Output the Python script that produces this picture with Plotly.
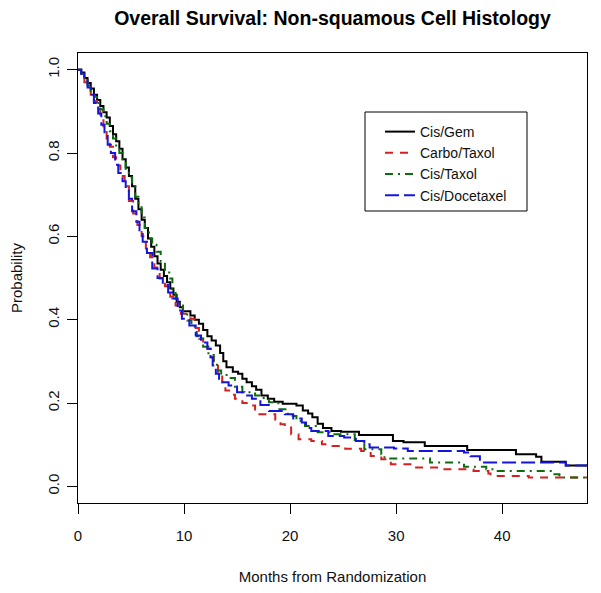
import plotly.graph_objects as go

# ---- data ----
series_names = ["Cis/Gem", "Carbo/Taxol", "Cis/Taxol", "Cis/Docetaxel"]

cisgem_t = [0, 0.3, 0.6, 0.9, 1.2, 1.5, 1.8, 2.1, 2.4, 2.7,
            3.0, 3.3, 3.6, 3.9, 4.2, 4.5, 4.8, 5.1, 5.4, 5.7,
            6.0, 6.3, 6.6, 6.9, 7.2, 7.5, 7.8, 8.1, 8.4, 8.7,
            9.0, 9.3, 9.6, 9.9, 10.6, 11.0, 11.4, 11.8, 12.2, 12.6,
            13.0, 13.4, 13.7, 14.0, 14.6, 15.1, 15.5, 15.9, 16.4, 16.8,
            17.3, 17.9, 18.5, 19.3, 20.6, 21.2, 21.7, 22.1, 22.6, 23.1,
            23.9, 24.8, 26.5, 29.7, 30.7, 32.7, 36.7, 41.3, 43.2, 43.7,
            46.0, 48]
cisgem_s = [1.0, 0.993, 0.98, 0.968, 0.955, 0.94, 0.927, 0.913, 0.898, 0.885,
            0.865, 0.845, 0.828, 0.81, 0.785, 0.765, 0.745, 0.72, 0.69, 0.665,
            0.64, 0.62, 0.595, 0.575, 0.552, 0.535, 0.52, 0.505, 0.49, 0.475,
            0.46, 0.443, 0.43, 0.42, 0.41, 0.40, 0.39, 0.375, 0.36, 0.35,
            0.338, 0.32, 0.30, 0.286, 0.275, 0.27, 0.258, 0.25, 0.24, 0.232,
            0.218, 0.21, 0.203, 0.198, 0.194, 0.182, 0.175, 0.166, 0.15, 0.14,
            0.133, 0.131, 0.123, 0.109, 0.106, 0.097, 0.087, 0.077, 0.071, 0.059,
            0.05, 0.05]

carbotaxol_t = [0, 0.3, 0.6, 0.9, 1.2, 1.5, 1.8, 2.1, 2.4, 2.7,
                3.0, 3.3, 3.6, 4.0, 4.4, 4.8, 5.2, 5.6, 6.0, 6.4,
                6.8, 7.2, 7.7, 8.2, 8.7, 9.2, 9.7, 10.6, 11.0, 11.4,
                11.8, 12.2, 12.5, 12.8, 13.2, 13.6, 13.9, 14.4, 14.8, 15.5,
                16.1, 16.7, 18.6, 19.1, 19.5, 20.1, 20.8, 22.0, 23.0, 24.0,
                25.2, 26.7, 27.6, 28.6, 29.5, 31.7, 34.2, 37.3, 38.7, 38.9,
                42.5, 48]
carbotaxol_s = [1.0, 0.985, 0.97, 0.957, 0.94, 0.925, 0.905, 0.885, 0.86, 0.835,
                0.815, 0.79, 0.77, 0.745, 0.72, 0.685, 0.655, 0.627, 0.60, 0.571,
                0.55, 0.525, 0.499, 0.48, 0.455, 0.434, 0.414, 0.402, 0.38, 0.354,
                0.342, 0.33, 0.31, 0.294, 0.27, 0.25, 0.23, 0.22, 0.21, 0.2,
                0.194, 0.173, 0.157, 0.149, 0.141, 0.125, 0.113, 0.109, 0.101, 0.097,
                0.09, 0.085, 0.073, 0.065, 0.053, 0.045, 0.041, 0.037, 0.031, 0.025,
                0.021, 0.021]

cistaxol_t = [0, 0.3, 0.6, 0.9, 1.2, 1.5, 1.8, 2.1, 2.4, 2.7,
              3.0, 3.3, 3.6, 3.9, 4.2, 4.5, 4.8, 5.1, 5.4, 5.7,
              6.0, 6.3, 6.7, 7.0, 7.4, 7.8, 8.2, 8.6, 8.9, 9.2,
              9.5, 9.9, 10.3, 10.7, 11.2, 11.8, 12.3, 12.8, 13.1, 13.5,
              14.2, 14.8, 15.5, 16.7, 17.3, 18.0, 18.9, 19.8, 20.6, 21.4,
              22.6, 24.0, 26.1, 27.0, 28.6, 28.9, 33.2, 36.4, 38.5, 39.2,
              44.8, 45.4, 48]
cistaxol_s = [1.0, 0.99, 0.975, 0.962, 0.948, 0.935, 0.92, 0.905, 0.888, 0.87,
              0.852, 0.835, 0.818, 0.8, 0.78, 0.762, 0.742, 0.72, 0.695, 0.67,
              0.645, 0.62, 0.595, 0.58, 0.563, 0.54, 0.52, 0.499, 0.47, 0.45,
              0.434, 0.415, 0.398, 0.383, 0.36, 0.335, 0.315, 0.30, 0.278, 0.267,
              0.26, 0.239, 0.226, 0.218, 0.212, 0.202, 0.185, 0.169, 0.157, 0.145,
              0.13, 0.125, 0.109, 0.089, 0.077, 0.067, 0.057, 0.047, 0.041, 0.037,
              0.029, 0.021, 0.021]

cisdoc_t = [0, 0.3, 0.6, 0.9, 1.2, 1.5, 1.9, 2.2, 2.5, 2.8,
            3.1, 3.5, 3.8, 4.2, 4.5, 4.8, 5.1, 5.5, 5.8, 6.1,
            6.5, 7.0, 7.5, 8.0, 8.5, 8.9, 9.4, 9.8, 10.5, 11.1,
            11.6, 12.2, 12.5, 12.7, 13.0, 13.3, 14.2, 15.0, 15.7, 16.4,
            17.2, 18.0, 19.5, 20.3, 21.1, 21.5, 22.0, 23.6, 25.1, 26.2,
            27.0, 27.5, 29.8, 31.1, 36.4, 37.0, 37.9, 46.0, 48]
cisdoc_s = [1.0, 0.99, 0.975, 0.957, 0.94, 0.92, 0.895, 0.868, 0.845, 0.82,
            0.8, 0.772, 0.752, 0.732, 0.715, 0.69, 0.66, 0.635, 0.611, 0.587,
            0.56, 0.523, 0.5, 0.483, 0.465, 0.451, 0.422, 0.402, 0.386, 0.362,
            0.345, 0.33, 0.31, 0.29, 0.27, 0.25, 0.242, 0.226, 0.218, 0.21,
            0.195, 0.181, 0.173, 0.163, 0.153, 0.14, 0.133, 0.121, 0.117, 0.109,
            0.101, 0.093, 0.091, 0.085, 0.081, 0.072, 0.057, 0.05, 0.05]

x_ticks = [0, 10, 20, 30, 40]
y_ticks = [0.0, 0.2, 0.4, 0.6, 0.8, 1.0]

# ---- styling ----
FONT = "Liberation Sans, Arial, sans-serif"
styles = [
    dict(color="#000000", dash="solid"),
    dict(color="#D42020", dash="8px,7px"),
    dict(color="#0F6B0F", dash="8px,5px,2px,5px"),
    dict(color="#1515DD", dash="14px,5px"),
]
data = [(cisgem_t, cisgem_s), (carbotaxol_t, carbotaxol_s),
        (cistaxol_t, cistaxol_s), (cisdoc_t, cisdoc_s)]

fig = go.Figure()
for name, (t, s), st in zip(series_names, data, styles):
    fig.add_trace(go.Scatter(
        x=t, y=s, mode="lines", name=name,
        line=dict(color=st["color"], dash=st["dash"], width=2, shape="hv"),
    ))

# page body has an 8px margin: work in figure coordinates = screen - 8
OFF = 8
W, H = 601 - OFF, 593 - OFF
L, T = 78 - OFF, 53 - OFF          # plot box left / top (screen 78 / 53)
R = W - (587 - OFF)                # plot box right at screen 587
B = H - (503 - OFF)                # plot box bottom at screen 503
pw, ph = W - L - R, H - T - B

def px_x(p):
    return (p - OFF - L) / pw

def px_y(p):
    return (H - B - (p - OFF)) / ph

fig.update_layout(
    width=W, height=H,
    margin=dict(l=L, r=R, t=T, b=B, autoexpand=False),
    paper_bgcolor="white", plot_bgcolor="white",
    font=dict(family=FONT, size=15, color="#111111"),
    title=dict(
        text="Overall Survival: Non-squamous Cell Histology",
        font=dict(family=FONT, size=19.5, color="#000000", weight=700),
        x=0.5, xref="paper", xanchor="center",
        y=1 - (18 - OFF) / H, yref="container", yanchor="middle",
    ),
    xaxis=dict(
        range=[0, 48], tickvals=x_ticks, ticktext=[str(v) for v in x_ticks],
        showgrid=False, zeroline=False,
        showline=True, linecolor="#000000", linewidth=1, mirror=True,
        ticks="outside", ticklen=10, tickwidth=1, tickcolor="#000000",
        ticklabelstandoff=9,
        title=dict(text="Months from Randomization", standoff=28,
                   font=dict(family=FONT, size=15)),
    ),
    yaxis=dict(
        range=[-0.04, 1.04], tickvals=y_ticks,
        ticktext=["%.1f" % v for v in y_ticks], tickangle=-90,
        showgrid=False, zeroline=False,
        showline=True, linecolor="#000000", linewidth=1, mirror=True,
        ticks="outside", ticklen=10, tickwidth=1, tickcolor="#000000",
        ticklabelstandoff=2,
        title=dict(text="Probability", standoff=25,
                   font=dict(family=FONT, size=15)),
    ),
    legend=dict(
        x=px_x(380), y=px_y(116), xanchor="left", yanchor="top",
        bgcolor="rgba(0,0,0,0)", borderwidth=0,
        font=dict(family=FONT, size=14, color="#111111"),
        itemwidth=30, tracegroupgap=0,
    ),
    shapes=[dict(
        type="rect", xref="paper", yref="paper",
        x0=px_x(365), x1=px_x(527), y0=px_y(211), y1=px_y(112),
        line=dict(color="#000000", width=1), fillcolor="rgba(0,0,0,0)",
        layer="above",
    )],
    showlegend=True,
)

fig.write_html("out.html")
